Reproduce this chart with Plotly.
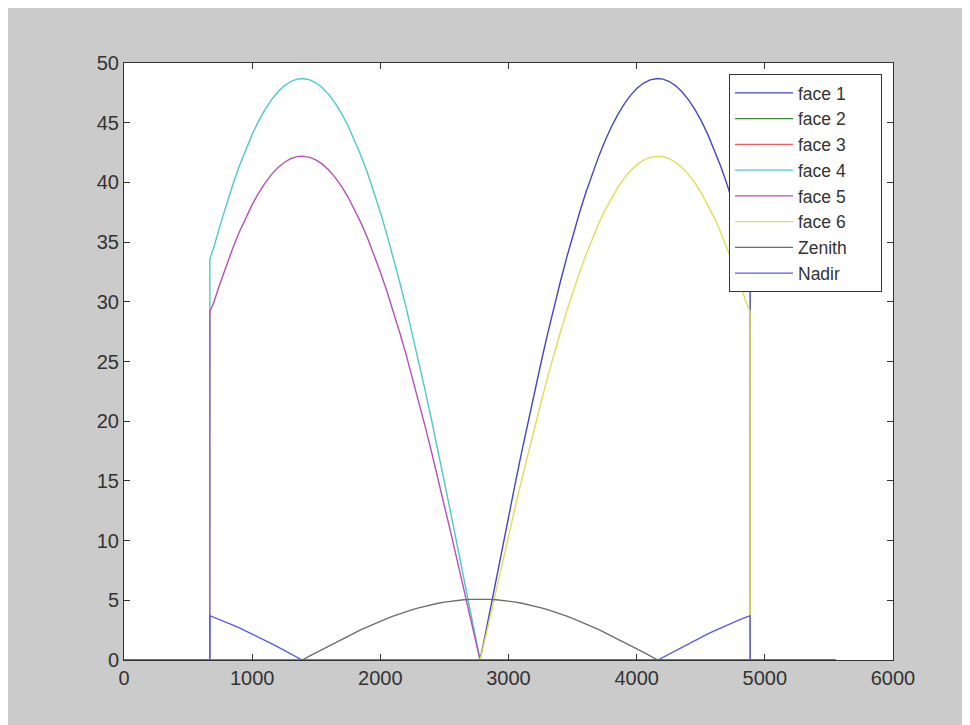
import plotly.graph_objects as go

# ---- data ----
# left hump (faces 4, 5)
x_left = [0, 669, 670,
          700, 750, 800, 850, 900, 950, 1000, 1050, 1100, 1150, 1200, 1250, 1300, 1350,
          1390,
          1450, 1500, 1550, 1600, 1650, 1700, 1750, 1800, 1850, 1900, 1950, 2000, 2050,
          2100, 2150, 2200, 2250, 2300, 2350, 2400, 2450, 2500, 2550, 2600, 2650, 2700, 2750,
          2778, 5550]
face4 = [0, 0, 33.6,
         34.53, 36.42, 38.20, 39.85, 41.37, 42.76, 44.02, 45.13, 46.09, 46.91, 47.57, 48.09, 48.45, 48.65,
         48.70,
         48.59, 48.32, 47.90, 47.33, 46.60, 45.72, 44.70, 43.53, 42.22, 40.78, 39.20, 37.50, 35.68,
         33.74, 31.70, 29.57, 27.31, 24.96, 22.56, 20.08, 17.54, 14.92, 12.28, 9.61, 6.88, 4.14, 1.38,
         0, 0]
face5 = [0, 0, 29.2,
         29.92, 31.56, 33.10, 34.53, 35.84, 37.06, 38.14, 39.10, 39.94, 40.65, 41.23, 41.67, 41.98, 42.16,
         42.20,
         42.10, 41.87, 41.51, 41.01, 40.38, 39.62, 38.73, 37.72, 36.59, 35.34, 33.97, 32.50, 30.92,
         29.24, 27.47, 25.62, 23.67, 21.63, 19.55, 17.40, 15.20, 12.93, 10.64, 8.33, 5.96, 3.59, 1.19,
         0, 0]

# right hump (faces 1, 6)
x_right = [0, 2777,
           2805, 2855, 2905, 2955, 3005, 3055, 3105, 3155, 3205, 3255, 3305, 3355, 3405, 3455,
           3505, 3555, 3605, 3655, 3705, 3755, 3805, 3855, 3905, 3955, 4005, 4055, 4105,
           4165,
           4205, 4255, 4305, 4355, 4405, 4455, 4505, 4555, 4605, 4655, 4705, 4755, 4805, 4855,
           4885, 4886, 5550]
face1 = [0, 0,
         1.38, 4.14, 6.88, 9.61, 12.28, 14.92, 17.54, 20.08, 22.56, 24.96, 27.31, 29.57, 31.70, 33.74,
         35.68, 37.50, 39.20, 40.78, 42.22, 43.53, 44.70, 45.72, 46.60, 47.33, 47.90, 48.32, 48.59,
         48.70,
         48.65, 48.45, 48.09, 47.57, 46.91, 46.09, 45.13, 44.02, 42.76, 41.37, 39.85, 38.20, 36.42, 34.53,
         33.6, 0, 0]
face6 = [0, 0,
         1.19, 3.59, 5.96, 8.33, 10.64, 12.93, 15.20, 17.40, 19.55, 21.63, 23.67, 25.62, 27.47, 29.24,
         30.92, 32.50, 33.97, 35.34, 36.59, 37.72, 38.73, 39.62, 40.38, 41.01, 41.51, 41.87, 42.10,
         42.20,
         42.16, 41.98, 41.67, 41.23, 40.65, 39.94, 39.10, 38.14, 37.06, 35.84, 34.53, 33.10, 31.56, 29.92,
         29.2, 0, 0]

# faces 2 and 3 stay at zero
x_flat = [0, 5550]
face2 = [0, 0]
face3 = [0, 0]

# zenith
x_zen = [0, 1390,
         1450, 1500, 1550, 1600, 1650, 1700, 1750, 1800, 1850, 1900, 1950, 2000, 2050,
         2100, 2150, 2200, 2250, 2300, 2350, 2400, 2450, 2500, 2550, 2600, 2650, 2700, 2750,
         2778,
         2805, 2855, 2905, 2955, 3005, 3055, 3105, 3155, 3205, 3255, 3305, 3355, 3405, 3455,
         3505, 3555, 3605, 3655, 3705, 3755, 3805, 3855, 3905, 3955, 4005, 4055, 4105,
         4165, 5550]
zenith = [0, 0,
          0.35, 0.63, 0.92, 1.20, 1.48, 1.75, 2.02, 2.28, 2.54, 2.78, 3.02, 3.25, 3.47,
          3.67, 3.87, 4.05, 4.22, 4.37, 4.51, 4.64, 4.75, 4.85, 4.93, 5.00, 5.05, 5.08, 5.10,
          5.10,
          5.10, 5.08, 5.05, 5.00, 4.93, 4.85, 4.75, 4.64, 4.51, 4.37, 4.22, 4.05, 3.87, 3.67,
          3.47, 3.25, 3.02, 2.78, 2.54, 2.28, 2.02, 1.75, 1.48, 1.20, 0.92, 0.63, 0.35,
          0, 0]

# nadir
x_nad = [0, 669, 670,
         700, 750, 800, 850, 900, 950, 1000, 1050, 1100, 1150, 1200, 1250, 1300, 1350,
         1390, 4165,
         4205, 4255, 4305, 4355, 4405, 4455, 4505, 4555, 4605, 4655, 4705, 4755, 4805, 4855,
         4885, 4886, 5550]
nadir = [0, 0, 3.71,
         3.59, 3.38, 3.16, 2.93, 2.69, 2.44, 2.18, 1.92, 1.64, 1.37, 1.09, 0.80, 0.52, 0.23,
         0, 0,
         0.23, 0.52, 0.80, 1.09, 1.37, 1.64, 1.92, 2.18, 2.44, 2.69, 2.93, 3.16, 3.38, 3.59,
         3.71, 0, 0]

names = ["face 1", "face 2", "face 3", "face 4", "face 5", "face 6", "Zenith", "Nadir"]
xs = [x_right, x_flat, x_flat, x_left, x_left, x_right, x_zen, x_nad]
ys = [face1, face2, face3, face4, face5, face6, zenith, nadir]
colors = ["#4646c0", "#3a8a3a", "#f05a5a", "#50c8c8", "#b450b8", "#dede5a", "#6e6e6e", "#5a5ae6"]

x_ticks = [0, 1000, 2000, 3000, 4000, 5000, 6000]
y_ticks = [0, 5, 10, 15, 20, 25, 30, 35, 40, 45, 50]

fig = go.Figure()
pad = "\u00a0" * 6
for n, x, y, c in zip(names, xs, ys, colors):
    fig.add_trace(go.Scatter(x=x, y=y, mode="lines", name=n + pad,
                             line=dict(color=c, width=1.4)))

W, H = 962, 717
L, R, T, B = 116, 77, 55, 65
pw, ph = W - L - R, H - T - B

axis_common = dict(showgrid=False, zeroline=False, showline=True, linecolor="#333333",
                   linewidth=1, mirror="ticks", ticks="inside", ticklen=6,
                   tickcolor="#333333", tickfont=dict(size=20, color="#333333"))

fig.update_xaxes(range=[0, 6000], tickvals=x_ticks, ticktext=[str(v) for v in x_ticks],
                 **axis_common)
fig.update_yaxes(range=[0, 50], tickvals=y_ticks, ticktext=[str(v) for v in y_ticks],
                 **axis_common)

fig.update_layout(
    width=W, height=H,
    margin=dict(l=L, r=R, t=T, b=B, pad=0),
    paper_bgcolor="#cbcbcb", plot_bgcolor="white",
    font=dict(family="Liberation Sans, Arial, sans-serif", size=20, color="#333333"),
    showlegend=True,
    legend=dict(x=(721 - L) / pw, y=(H - B - 66) / ph, xanchor="left", yanchor="top",
                bgcolor="white", bordercolor="#333333", borderwidth=1,
                font=dict(size=17.5, color="#333333"), itemwidth=58),
)

fig.write_html("out.html")
